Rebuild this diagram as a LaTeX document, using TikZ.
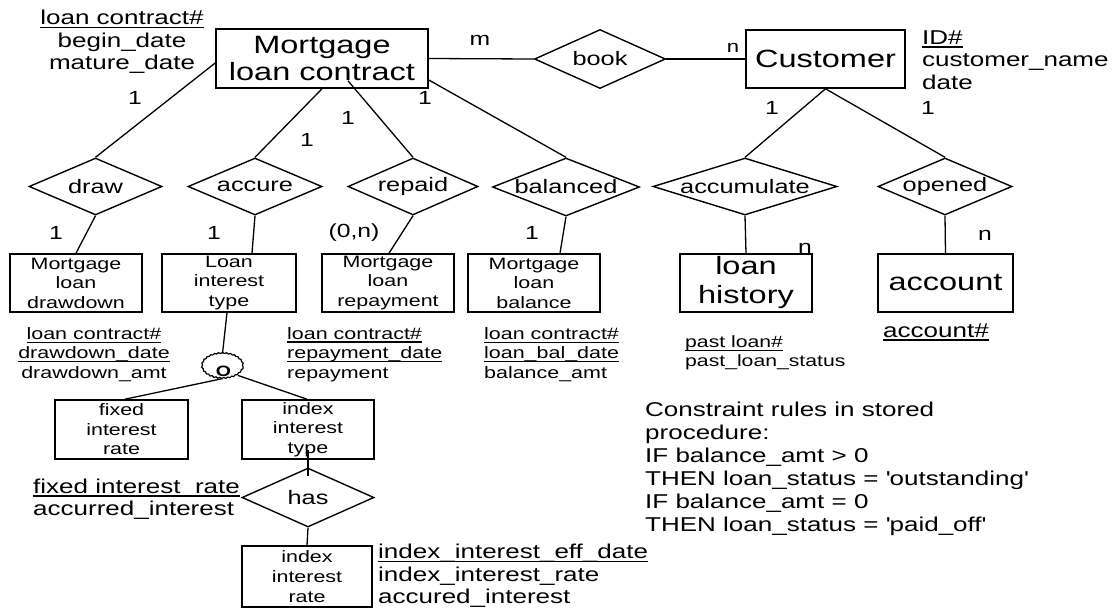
\documentclass[tikz,border=0pt]{standalone}
\usepackage{fontspec}
\setmainfont{Liberation Sans}[FakeStretch=1.3]
\usetikzlibrary{shapes.geometric,calc,decorations.pathmorphing}
% underlined key attribute
\newcommand{\uln}[1]{\leavevmode\setbox0=\hbox{#1}\rlap{\rule[-3.5pt]{\wd0}{1.3pt}}\box0}

\begin{document}
\begin{tikzpicture}[x=1pt,y=-1pt,
  ent/.style={draw, line width=1.6pt, inner sep=0pt, align=center},
  rel/.style={draw, diamond, line width=1.4pt, inner sep=0pt},
  link/.style={line width=1.3pt},
  big/.style={font=\fontsize{25}{27}\selectfont},
  boxtxt/.style={font=\fontsize{16.5}{19.5}\selectfont},
  rtxt/.style={font=\fontsize{19.5}{22}\selectfont},
  attr/.style={inner sep=0pt, font=\fontsize{20}{22.5}\selectfont},
  sattr/.style={inner sep=0pt, font=\fontsize{16.5}{19.5}\selectfont},
  card/.style={inner sep=0pt, font=\fontsize{19}{22}\selectfont},
]
\useasboundingbox[fill=white] (0,0) rectangle (1112,608);

% ---------- entities ----------
\node[ent, big, minimum width=212pt, minimum height=59pt] (mlc) at (322,58.5) {Mortgage\\loan contract};
\node[ent, big, minimum width=159pt, minimum height=58pt] (cust) at (825.5,59) {Customer};

\node[ent, boxtxt, minimum width=132pt, minimum height=58pt] (drawdown) at (76,283) {Mortgage\\loan\\drawdown};
\node[ent, boxtxt, minimum width=134pt, minimum height=58pt] (lit) at (229,283) {Loan\\interest\\type};
\node[ent, boxtxt, minimum width=132pt, minimum height=58pt] (repay) at (388,283) {Mortgage\\loan\\repayment};
\node[ent, boxtxt, minimum width=132pt, minimum height=58pt] (bal) at (534,283) {Mortgage\\loan\\balance};
\node[ent, font=\fontsize{25}{29}\selectfont, minimum width=132pt, minimum height=58pt] (hist) at (746,283) {loan\\history};
\node[ent, big, minimum width=135pt, minimum height=58pt] (acct) at (945.5,283) {account};

\node[ent, boxtxt, minimum width=133pt, minimum height=59pt] (fixed) at (121.5,429.5) {fixed\\interest\\rate};
\node[ent, boxtxt, minimum width=132pt, minimum height=59pt] (iit) at (308,429.5) {index\\interest\\type};
\node[ent, boxtxt, font=\fontsize{16.5}{20}\selectfont, minimum width=130pt, minimum height=61pt] (iir) at (307,576.5) {index\\interest\\rate};

% ---------- relationships ----------
\node[rel, minimum width=131pt, minimum height=59pt, label={[rtxt]center:book}] (rBook) at (600,59) {};
\node[rel, minimum width=133pt, minimum height=57pt, label={[rtxt]center:draw}] (rDraw) at (95.5,186.5) {};
\node[rel, minimum width=134pt, minimum height=57pt, label={[rtxt]center:accure}] (rAccure) at (255,186.5) {};
\node[rel, minimum width=130pt, minimum height=57pt, label={[rtxt]center:repaid}] (rRepaid) at (413,186.5) {};
\node[rel, minimum width=147pt, minimum height=58pt, label={[rtxt]center:balanced}] (rBal) at (566,187) {};
\node[rel, minimum width=184pt, minimum height=57pt, label={[rtxt]center:accumulate}] (rAccum) at (745,186.5) {};
\node[rel, minimum width=134pt, minimum height=57pt, label={[rtxt]center:opened}] (rOpened) at (945,186.5) {};
\node[rel, minimum width=132pt, minimum height=59pt, label={[rtxt]center:has}] (rHas) at (308,497.5) {};

% overlap (disjointness) marker
\node[draw, ellipse, line width=1.2pt, minimum width=41pt, minimum height=25pt, inner sep=0pt,
      decorate, decoration={snake, amplitude=0.5pt, segment length=4pt},
      label={[font=\fontsize{15}{15}\selectfont\bfseries, xshift=1pt, yshift=-5pt]center:O}] (ov) at (222.5,366.5) {};

% ---------- connectors ----------
\draw[link] (mlc.east) -- (rBook.west);
\draw[link] (rBook.east) -- (cust.west);
\draw[link] ($(mlc.west)+(0,4.5)$) -- (rDraw.north);
\draw[link] (mlc.south) -- (rAccure.north);
\draw[link] ($(mlc.south)+(26,-8)$) -- (rRepaid.north);
\draw[link] ($(mlc.east)+(0,21.5)$) -- (rBal.north);
\draw[link] (cust.south) -- (rAccum.north);
\draw[link] (cust.south) -- (rOpened.north);

\draw[link] (rDraw.south) -- (drawdown.north);
\draw[link] (rAccure.south) -- ($(lit.north)+(23,0)$);
\draw[link] (rRepaid.south) -- ($(repay.north)+(1,0)$);
\draw[link] (rBal.south) -- ($(bal.north)+(26,0)$);
\draw[link] (rAccum.south) -- (hist.north);
\draw[link] (rOpened.south) -- (acct.north);

\draw[link] ($(lit.south)+(-2,0)$) -- (ov.north);
\draw[link] ($(ov.south)+(0,-1)$) -- ($(fixed.north)+(3.5,0)$);
\draw[link] (ov.-30) -- ($(iit.north)+(-1,0)$);
\draw[link] ($(iit.south)+(0,-10)$) -- ($(rHas.north)+(0,9)$);
\draw[link] (rHas.south) -- (iir.north);

% ---------- cardinalities ----------
\node[card] (c1) at (480,40) {m};
\node[card, font=\fontsize{17}{20}\selectfont] (c2) at (733,48) {n};
\node[card] (c3) at (135,98) {1};
\node[card] (c4) at (307,140) {1};
\node[card] (c5) at (348,118) {1};
\node[card] (c6) at (425,98) {1};
\node[card] (c7) at (772,108) {1};
\node[card] (c8) at (928,108) {1};
\node[card] (c9) at (56,233) {1};
\node[card] (c10) at (214,233) {1};
\node[card] (c11) at (354,233) {(0,n)};
\node[card] (c12) at (532,233) {1};
\node[card] (c13) at (805,248) {n};
\node[card] (c14) at (985,235) {n};

% ---------- attributes ----------
\node[attr, align=center] (aMlc) at (122,42) {\uln{loan contract\#}\\begin\_date\\mature\_date};
\node[attr, align=left, anchor=west] (aCust) at (922,60) {\uln{ID\#}\\customer\_name\\date};
\node[sattr, align=center] (aDraw) at (94,354.5) {\uln{loan contract\#}\\\uln{drawdown\_date}\\drawdown\_amt};
\node[sattr, align=left, anchor=west] (aRepay) at (287,354.5) {\uln{loan contract\#}\\\uln{repayment\_date}\\repayment};
\node[sattr, align=left, anchor=west] (aBal) at (484,354.5) {\uln{loan contract\#}\\\uln{loan\_bal\_date}\\balance\_amt};
\node[sattr, font=\fontsize{16.3}{19}\selectfont, align=left, anchor=west] (aHist) at (685,353) {\uln{past loan\#}\\past\_loan\_status};
\node[attr, anchor=west] (aAcct) at (883,332) {\uln{account\#}};
\node[attr, align=left, anchor=west] (aFixed) at (33,499) {\uln{fixed interest\_rate}\\accurred\_interest};
\node[attr, align=left, anchor=west] (aIir) at (378,576) {\uln{index\_interest\_eff\_date}\\index\_interest\_rate\\accured\_interest};

% ---------- note ----------
\node[attr, font=\fontsize{20}{23}\selectfont, align=left, anchor=west] (rules) at (645,468.5)
  {Constraint rules in stored\\procedure:\\IF balance\_amt > 0\\THEN loan\_status = \textquotesingle outstanding\textquotesingle\\IF balance\_amt = 0\\THEN loan\_status = \textquotesingle paid\_off\textquotesingle};
\end{tikzpicture}
\end{document}
